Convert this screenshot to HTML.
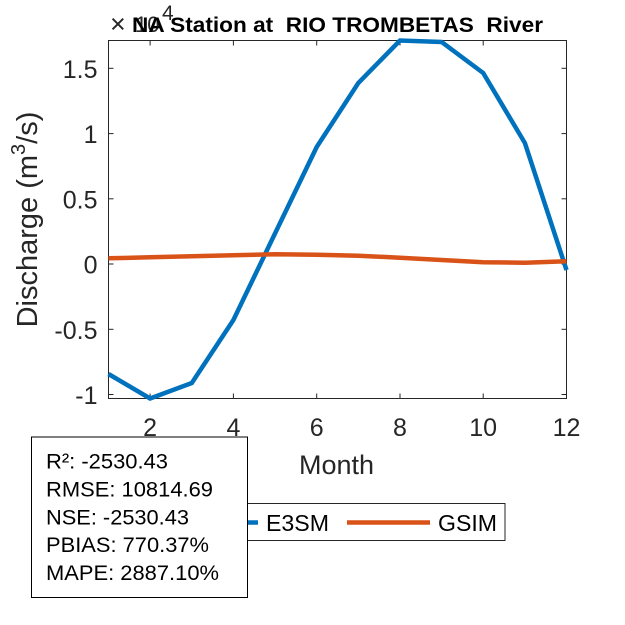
<!DOCTYPE html>
<html>
<head>
<meta charset="utf-8">
<style>
  html, body { margin: 0; padding: 0; background: #ffffff; }
  svg { display: block; }
  text { font-family: "Liberation Sans", Arial, Helvetica, sans-serif; }
</style>
</head>
<body>
<svg width="625" height="625" viewBox="0 0 625 625" xmlns="http://www.w3.org/2000/svg">
  <rect x="0" y="0" width="625" height="625" fill="#ffffff"/>

  <!-- axes box -->
  <rect x="108.5" y="40.5" width="458" height="358" fill="#ffffff" stroke="#262626" stroke-width="1"/>

  <!-- ticks -->
  <g stroke="#262626" stroke-width="1">
    <line x1="150.1" y1="398.5" x2="150.1" y2="393.5"/>
    <line x1="233.4" y1="398.5" x2="233.4" y2="393.5"/>
    <line x1="316.7" y1="398.5" x2="316.7" y2="393.5"/>
    <line x1="400.0" y1="398.5" x2="400.0" y2="393.5"/>
    <line x1="483.2" y1="398.5" x2="483.2" y2="393.5"/>
    <line x1="150.1" y1="40.5" x2="150.1" y2="45.5"/>
    <line x1="233.4" y1="40.5" x2="233.4" y2="45.5"/>
    <line x1="316.7" y1="40.5" x2="316.7" y2="45.5"/>
    <line x1="400.0" y1="40.5" x2="400.0" y2="45.5"/>
    <line x1="483.2" y1="40.5" x2="483.2" y2="45.5"/>
    <line x1="108.5" y1="68.3" x2="113.5" y2="68.3"/>
    <line x1="108.5" y1="133.6" x2="113.5" y2="133.6"/>
    <line x1="108.5" y1="198.8" x2="113.5" y2="198.8"/>
    <line x1="108.5" y1="264" x2="113.5" y2="264"/>
    <line x1="108.5" y1="329.3" x2="113.5" y2="329.3"/>
    <line x1="108.5" y1="394.5" x2="113.5" y2="394.5"/>
    <line x1="566.5" y1="68.3" x2="561.5" y2="68.3"/>
    <line x1="566.5" y1="133.6" x2="561.5" y2="133.6"/>
    <line x1="566.5" y1="198.8" x2="561.5" y2="198.8"/>
    <line x1="566.5" y1="264" x2="561.5" y2="264"/>
    <line x1="566.5" y1="329.3" x2="561.5" y2="329.3"/>
    <line x1="566.5" y1="394.5" x2="561.5" y2="394.5"/>
  </g>

  <!-- y tick labels -->
  <g font-size="25" fill="#262626" text-anchor="end">
    <text x="97.5" y="78">1.5</text>
    <text x="97.5" y="143.2">1</text>
    <text x="97.5" y="208.4">0.5</text>
    <text x="97.5" y="273.6">0</text>
    <text x="97.5" y="338.9">-0.5</text>
    <text x="97.5" y="404">-1</text>
  </g>

  <!-- x tick labels -->
  <g font-size="25" fill="#262626" text-anchor="middle">
    <text x="150.1" y="436">2</text>
    <text x="233.4" y="436">4</text>
    <text x="316.7" y="436">6</text>
    <text x="400.0" y="436">8</text>
    <text x="483.2" y="436">10</text>
    <text x="566.5" y="436">12</text>
  </g>

  <!-- x label -->
  <text x="336.5" y="474" font-size="27" fill="#262626" text-anchor="middle">Month</text>

  <!-- y label -->
  <text transform="translate(37,219.5) rotate(-90)" font-size="29" fill="#262626" text-anchor="middle">Discharge (m<tspan font-size="20" dy="-12">3</tspan><tspan dy="12">/s)</tspan></text>

  <!-- exponent label -->
  <text x="110" y="33" font-size="27" fill="#262626">×</text>
  <text x="135" y="32" font-size="22" fill="#262626">10</text>
  <text x="162" y="20" font-size="21" fill="#262626">4</text>

  <!-- title -->
  <text x="132" y="32" font-size="21" font-weight="bold" fill="#000000" textLength="411" lengthAdjust="spacingAndGlyphs" xml:space="preserve">NA Station at  RIO TROMBETAS  River</text>

  <!-- series -->
  <polyline fill="none" stroke="#0072BD" stroke-width="4.5" stroke-linejoin="miter"
    points="108.5,374 150.1,398.5 191.8,383 233.4,320 275.0,233.5 316.7,147 358.3,83 400.0,40.5 441.6,42 483.2,73 524.9,143 566.5,270"/>
  <polyline fill="none" stroke="#D95319" stroke-width="4.5" stroke-linejoin="round"
    points="108.5,258.3 150.1,257.3 191.8,256.3 233.4,255.3 275.0,254.3 316.7,254.7 358.3,255.7 400.0,257.7 441.6,260 483.2,262.3 524.9,262.7 566.5,261.3"/>

  <!-- legend -->
  <rect x="168.5" y="503.5" width="336.5" height="37" fill="#ffffff" stroke="#262626" stroke-width="1"/>
  <line x1="176" y1="522.5" x2="258" y2="522.5" stroke="#0072BD" stroke-width="4.5"/>
  <text x="266" y="531" font-size="23" fill="#000000" textLength="63" lengthAdjust="spacingAndGlyphs">E3SM</text>
  <line x1="347" y1="522.5" x2="430" y2="522.5" stroke="#D95319" stroke-width="4.5"/>
  <text x="438" y="531" font-size="23" fill="#000000" textLength="59" lengthAdjust="spacingAndGlyphs">GSIM</text>

  <!-- stats box -->
  <rect x="31.5" y="437" width="216" height="160.5" fill="#ffffff" stroke="#000000" stroke-width="1"/>
  <g font-size="21" fill="#000000">
    <text x="46" y="468.3" textLength="122" lengthAdjust="spacingAndGlyphs">R²: -2530.43</text>
    <text x="46" y="496.7" textLength="167" lengthAdjust="spacingAndGlyphs">RMSE: 10814.69</text>
    <text x="46" y="524.5" textLength="143" lengthAdjust="spacingAndGlyphs">NSE: -2530.43</text>
    <text x="46" y="552" textLength="163" lengthAdjust="spacingAndGlyphs">PBIAS: 770.37%</text>
    <text x="46" y="580" textLength="173" lengthAdjust="spacingAndGlyphs">MAPE: 2887.10%</text>
  </g>
</svg>
</body>
</html>
